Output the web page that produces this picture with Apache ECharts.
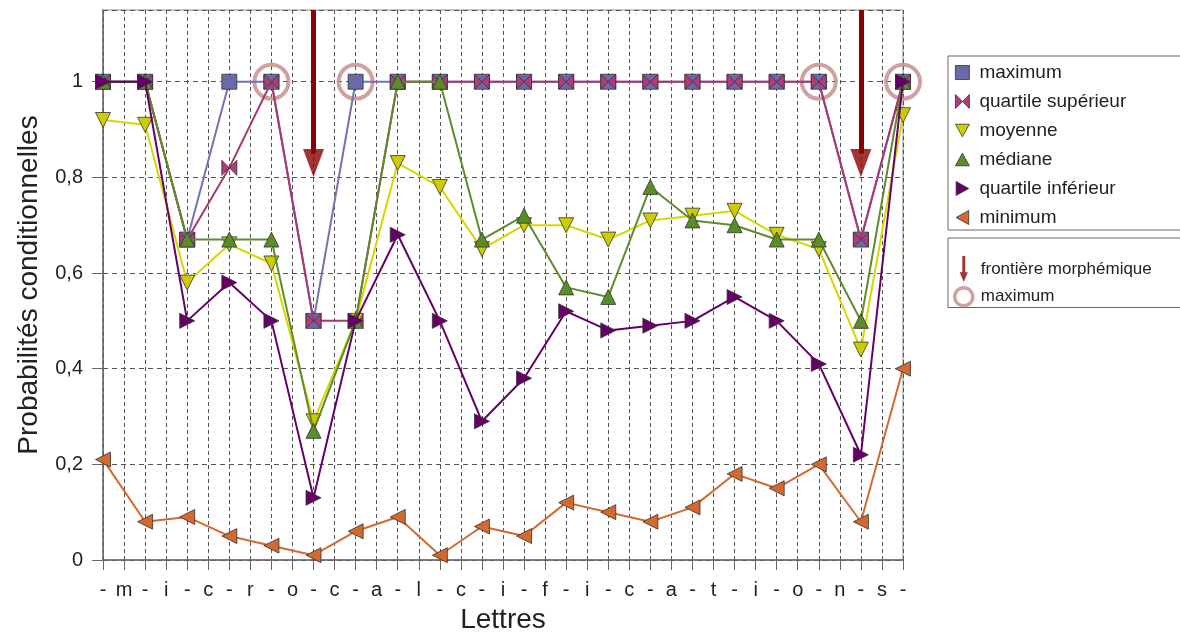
<!DOCTYPE html>
<html>
<head>
<meta charset="utf-8">
<script src="https://cdn.jsdelivr.net/npm/echarts@6/dist/echarts.min.js"></script>
<style>html,body{margin:0;padding:0;background:#fff}#c{width:1180px;height:633px}</style>
</head>
<body>
<div id="c"></div>
<script>
// ---- data ----
const tickLabels = ['-','m','-','i','-','c','-','r','-','o','-','c','-','a','-','l','-','c','-','i','-','f','-','i','-','c','-','a','-','t','-','i','-','o','-','n','-','s','-'];
const yTickLabels = ['0','0,2','0,4','0,6','0,8','1'];
const seriesNames = ['maximum','quartile supérieur','moyenne','médiane','quartile inférieur','minimum'];
const maximum      = [1,1,0.67,1,1,0.5,1,1,1,1,1,1,1,1,1,1,1,1,0.67,1];
const quartileSup  = [1,1,0.67,0.82,1,0.5,0.5,1,1,1,1,1,1,1,1,1,1,1,0.67,1];
const moyenne      = [0.92,0.91,0.58,0.66,0.62,0.29,0.5,0.83,0.78,0.65,0.70,0.70,0.67,0.71,0.72,0.73,0.68,0.65,0.44,0.93];
const mediane      = [1,1,0.67,0.67,0.67,0.27,0.5,1,1,0.67,0.72,0.57,0.55,0.78,0.71,0.70,0.67,0.67,0.50,1];
const quartileInf  = [1,1,0.50,0.58,0.50,0.13,0.50,0.68,0.50,0.29,0.38,0.52,0.48,0.49,0.50,0.55,0.50,0.41,0.22,1];
const minimum      = [0.21,0.08,0.09,0.05,0.03,0.01,0.06,0.09,0.01,0.07,0.05,0.12,0.10,0.08,0.11,0.18,0.15,0.20,0.08,0.40];
const arrowX = [10, 36];       // category index of morpheme boundaries
const arrowTip = 0.83;         // centre of arrow heads
const arrowShaftEnd = 0.85;
const circleX = [8, 12, 34, 38];
const circleY = [1, 1, 1, 1];
const yMax = 1.15;

// ---- helpers ----
const toPts = arr => arr.map((v, i) => [2 * i, v]);
const SYM = {
  square: 'rect',
  bowtie: 'path://M0,0L10,10L0,20ZM20,0L10,10L20,20Z',
  down: 'path://M0,0L20,0L10,18Z',
  up: 'path://M10,0L20,18L0,18Z',
  right: 'path://M0,0L18,10L0,20Z',
  left: 'path://M18,0L0,10L18,20Z',
  arrow: 'path://M3.2,0L6.8,0L6.8,20L10,20L5,32L0,20L3.2,20Z'
};
const styles = [
  {sym: SYM.square, color: '#6a6aa8', line: '#7373b0'},
  {sym: SYM.bowtie, color: '#b03c78', line: '#a8386e'},
  {sym: SYM.down,   color: '#cccc00', line: '#d6d600'},
  {sym: SYM.up,     color: '#5a8c28', line: '#5e8c2c'},
  {sym: SYM.right,  color: '#660066', line: '#660066'},
  {sym: SYM.left,   color: '#d2692e', line: '#d26a30'}
];
const values = [maximum, quartileSup, moyenne, mediane, quartileInf, minimum];

const lineSeries = values.map((arr, k) => ({
  name: seriesNames[k],
  type: 'line',
  data: toPts(arr),
  symbol: styles[k].sym,
  symbolSize: 15,
  symbolKeepAspect: false,
  clip: false,
  z: 3 + k,
  lineStyle: {color: styles[k].line, width: 2},
  itemStyle: {color: styles[k].color, borderColor: '#333', borderWidth: 0.8},
  animation: false
}));

const circleSeries = {
  name: 'maximum ',
  type: 'scatter',
  data: circleX.map((x, i) => [x, circleY[i]]),
  symbol: 'circle',
  symbolSize: 34,
  clip: false,
  z: 2,
  itemStyle: {color: 'rgba(0,0,0,0)', borderColor: '#c48a8a', borderWidth: 4},
  animation: false
};

const arrowSeries = {
  name: 'frontière morphémique',
  type: 'scatter',
  data: arrowX.map(x => [x, arrowTip]),
  symbol: SYM.down,
  symbolSize: [21, 28],
  symbolKeepAspect: false,
  clip: false,
  z: 10,
  itemStyle: {color: '#8b0000'},
  markLine: {
    silent: true,
    symbol: ['none', 'none'],
    label: {show: false},
    lineStyle: {color: '#8b0000', width: 5, type: 'solid'},
    data: arrowX.map(x => [{coord: [x, yMax]}, {coord: [x, arrowShaftEnd]}]),
    animation: false
  },
  animation: false
};

const chart = echarts.init(document.getElementById('c'), null, {renderer: 'canvas'});
chart.setOption({
  animation: false,
  backgroundColor: '#fff',
  grid: {left: 103, right: 277, top: 10, bottom: 73, containLabel: false, outerBoundsMode: 'none',
    show: true, borderColor: '#8a8a8a', borderWidth: 1, backgroundColor: 'transparent'},
  xAxis: {
    type: 'value', min: 0, max: 38, interval: 1,
    name: 'Lettres', nameLocation: 'middle', nameGap: 46,
    nameTextStyle: {fontFamily: 'Liberation Sans', fontSize: 28, color: '#222'},
    axisLine: {show: true, lineStyle: {color: '#666', width: 1.5}},
    axisTick: {show: true, length: 10, lineStyle: {color: '#666'}},
    axisLabel: {margin: 20, fontFamily: 'Liberation Sans', fontSize: 20, color: '#222',
      formatter: v => tickLabels[Math.round(v)] || ''},
    splitLine: {show: true, lineStyle: {color: '#555', type: [4, 3], width: 1}}
  },
  yAxis: {
    type: 'value', min: 0, max: yMax, interval: 0.2,
    name: 'Probabilités conditionnelles', nameLocation: 'middle', nameGap: 60,
    nameTextStyle: {fontFamily: 'Liberation Sans', fontSize: 28, color: '#222'},
    axisLine: {show: true, lineStyle: {color: '#666', width: 1.5}},
    axisTick: {show: true, length: 11, lineStyle: {color: '#666'}},
    axisLabel: {margin: 20, fontFamily: 'Liberation Sans', fontSize: 20, color: '#222', showMaxLabel: false,
      formatter: v => { const i = Math.round(v / 0.2); return Math.abs(i * 0.2 - v) < 1e-6 ? (yTickLabels[i] || '') : ''; }},
    splitLine: {show: true, lineStyle: {color: '#555', type: [5, 4], width: 1}}
  },
  legend: [
    {
      orient: 'vertical', left: 948, top: 56,
      padding: [7, 80, 3, 7], itemGap: 10, itemWidth: 14, itemHeight: 14,
      backgroundColor: '#fff', borderColor: '#666', borderWidth: 1,
      textStyle: {fontFamily: 'Liberation Sans', fontSize: 19, lineHeight: 19, color: '#222', padding: [0, 0, 0, 5]},
      itemStyle: {borderColor: '#333', borderWidth: 0.8},
      selectedMode: false,
      data: seriesNames.map((n, k) => ({name: n, icon: styles[k].sym}))
    },
    {
      orient: 'vertical', left: 948, top: 238,
      padding: [18, 60, 0, 5], itemGap: 4, itemWidth: 18, itemHeight: 26,
      backgroundColor: '#fff', borderColor: '#666', borderWidth: 1,
      textStyle: {fontFamily: 'Liberation Sans', fontSize: 17, color: '#222', padding: [0, 0, 0, 3]},
      selectedMode: false,
      data: [
        {name: 'frontière morphémique', icon: SYM.arrow, itemStyle: {color: '#8b0000', borderWidth: 0}},
        {name: 'maximum ', icon: 'circle', itemStyle: {color: 'rgba(0,0,0,0)', borderColor: '#c48a8a', borderWidth: 3.5}}
      ]
    }
  ],
  series: [circleSeries].concat(lineSeries).concat([arrowSeries])
});
</script>
</body>
</html>
